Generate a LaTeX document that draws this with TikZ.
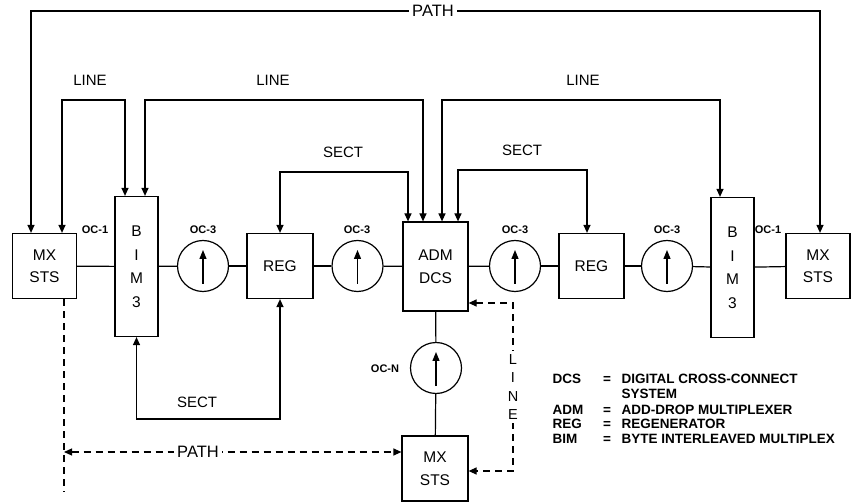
\documentclass[tikz,border=0pt]{standalone}
\usepackage{fontspec}
\setmainfont{Liberation Sans}
\usetikzlibrary{arrows.meta,calc}
\begin{document}
\begin{tikzpicture}[x=1pt,y=-1pt,
  line width=1.2pt,
  box/.style={draw,rectangle,inner sep=0pt,align=center,font=\fontsize{15.5}{22.5}\selectfont},
  tallbox/.style={box,minimum width=43pt,minimum height=140pt,font=\fontsize{15.5}{23.5}\selectfont},
  sqbox/.style={box,minimum width=65pt,minimum height=65pt},
  circ/.style={draw,circle,inner sep=0pt,minimum size=51pt},
  lbl/.style={font=\fontsize{15}{18}\selectfont,inner sep=1pt},
  bigl/.style={font=\fontsize{16.5}{18}\selectfont,inner sep=3pt,fill=white},
  oc/.style={font=\fontsize{11}{12}\selectfont\bfseries,inner sep=0pt},
  leg/.style={font=\fontsize{13.5}{15}\selectfont\bfseries,inner sep=0pt},
  dtip/.style={{Triangle[length=8pt,width=7pt]}-{Triangle[length=8pt,width=7pt]}},
  stip/.style={{Triangle[length=8pt,width=7pt]}-},
  intip/.style={-{Triangle[length=9pt,width=7pt]}},
  dashline/.style={dash pattern=on 7pt off 5pt}
]
\useasboundingbox (0,0) rectangle (851,502);

% main chain
\node[sqbox,minimum width=64pt] (mxl) at (44.5,266) {MX\\STS};
\node[tallbox] (biml) at (136.5,266.5) {B\\I\\M\\3};
\node[circ] (c1) at (203,266) {};
\node[sqbox,minimum width=66pt] (reg1) at (280,266) {REG};
\node[circ] (c2) at (357.5,266) {};
\node[box,minimum width=65pt,minimum height=89pt] (adm) at (435.5,266.5) {ADM\\DCS};
\node[circ] (c3) at (515,266) {};
\node[sqbox] (reg2) at (591.5,266) {REG};
\node[circ] (c4) at (667,266) {};
\node[tallbox] (bimr) at (732.5,267.5) {B\\I\\M\\3};
\node[sqbox,minimum width=64pt] (mxr) at (818,266) {MX\\STS};
\node[circ] (cn) at (436,368) {};
\node[sqbox,minimum width=66pt] (mxb) at (435,468.5) {MX\\STS};

\draw (mxl) -- (biml);
\draw (biml) -- (c1);
\draw (c1) -- (reg1);
\draw (reg1) -- (c2);
\draw (c2) -- (adm);
\draw (adm) -- (c3);
\draw (c3) -- (reg2);
\draw (reg2) -- (c4);
\draw (c4) -- (bimr);
\draw (bimr) -- (mxr);
\draw (adm) -- (cn);
\draw (cn) -- (mxb);

% arrows inside the circles
\foreach \n in {c1,c2,c3,c4,cn}
  \draw[intip] ([yshift=-18pt]\n.center) -- ([yshift=16pt]\n.center);

% OC labels
\node[oc] (oc1l) at (95,230) {OC-1};
\node[oc] (oc3a) at (203,230) {OC-3};
\node[oc] (oc3b) at (357,230) {OC-3};
\node[oc] (oc3c) at (515,230) {OC-3};
\node[oc] (oc3d) at (667,230) {OC-3};
\node[oc] (oc1r) at (768,230) {OC-1};
\node[oc] (ocn) at (385,369) {OC-N};

% top PATH
\node[bigl] (ptop) at (433,11) {PATH};
\draw[stip] ([xshift=-13.5pt]mxl.north) |- (ptop.west);
\draw[stip] ([xshift=2pt]mxr.north) |- (ptop.east);

% LINE left
\coordinate (la1) at (62,100);
\coordinate (la2) at (125,100);
\draw[dtip] ([xshift=17.5pt]mxl.north) -- (la1) -- (la2) -- ([xshift=-11.5pt]biml.north);
\node[lbl] (lineA) at (90,80) {LINE};

% LINE middle
\coordinate (lb1) at (145,100);
\coordinate (lb2) at (423,100);
\draw[dtip] ([xshift=8.5pt]biml.north) -- (lb1) -- (lb2) -- ([xshift=-12.5pt]adm.north);
\node[lbl] (lineB) at (273,80) {LINE};

% LINE right
\coordinate (lc1) at (442,100);
\coordinate (lc2) at (720,100);
\draw[dtip] ([xshift=6.5pt]adm.north) -- (lc1) -- (lc2) -- ([xshift=-12.5pt]bimr.north);
\node[lbl] (lineC) at (583,80) {LINE};

% SECT left
\coordinate (sa1) at (280,172);
\coordinate (sa2) at (408,172);
\draw[dtip] (reg1.north) -- (sa1) -- (sa2) -- ([xshift=-27.5pt]adm.north);
\node[lbl] (sectA) at (343,152) {SECT};

% SECT right
\coordinate (sb1) at (458,170);
\coordinate (sb2) at (587,170);
\draw[dtip] ([xshift=22.5pt]adm.north) -- (sb1) -- (sb2) -- ([xshift=-4.5pt]reg2.north);
\node[lbl] (sectB) at (522,150) {SECT};

% SECT bottom
\coordinate (sc1) at (136.5,419);
\coordinate (sc2) at (280,419);
\draw[dtip] (biml.south) -- (sc1) -- (sc2) -- (reg1.south);
\node[lbl] (sectC) at (197,402) {SECT};

% dashed PATH bottom
\coordinate (pv) at (64,492);
\coordinate (ph) at (64,452);
\draw[dashline] ([xshift=19.5pt]mxl.south) -- (pv);
\draw[dashline,dtip] (ph) -- ([yshift=16.5pt]mxb.west);
\node[bigl] (pbot) at (198,452) {PATH};

% dashed LINE right
\coordinate (lr1) at (513,303);
\coordinate (lr2) at (513,471);
\draw[dashline,dtip] ([yshift=-36.5pt]adm.east) -- (lr1) -- (lr2) -- ([yshift=-2.5pt]mxb.east);
\node[lbl,fill=white,align=center,font=\fontsize{14.5}{18.5}\selectfont,inner sep=3pt] (lvert) at (513,387) {L\\I\\N\\E};

% legend
\node[leg,anchor=base west] (k1) at (552,384) {DCS};
\node[leg,anchor=base] (e1) at (607,384) {=};
\node[leg,anchor=base west] (v1) at (621,384) {DIGITAL CROSS-CONNECT};
\node[leg,anchor=base west] (v1b) at (621,398.5) {SYSTEM};
\node[leg,anchor=base west] (k2) at (552,414) {ADM};
\node[leg,anchor=base] (e2) at (607,414) {=};
\node[leg,anchor=base west] (v2) at (621,414) {ADD-DROP MULTIPLEXER};
\node[leg,anchor=base west] (k3) at (552,428.5) {REG};
\node[leg,anchor=base] (e3) at (607,428.5) {=};
\node[leg,anchor=base west] (v3) at (621,428.5) {REGENERATOR};
\node[leg,anchor=base west] (k4) at (552,443) {BIM};
\node[leg,anchor=base] (e4) at (607,443) {=};
\node[leg,anchor=base west] (v4) at (621,443) {BYTE INTERLEAVED MULTIPLEX};
\end{tikzpicture}
\end{document}
